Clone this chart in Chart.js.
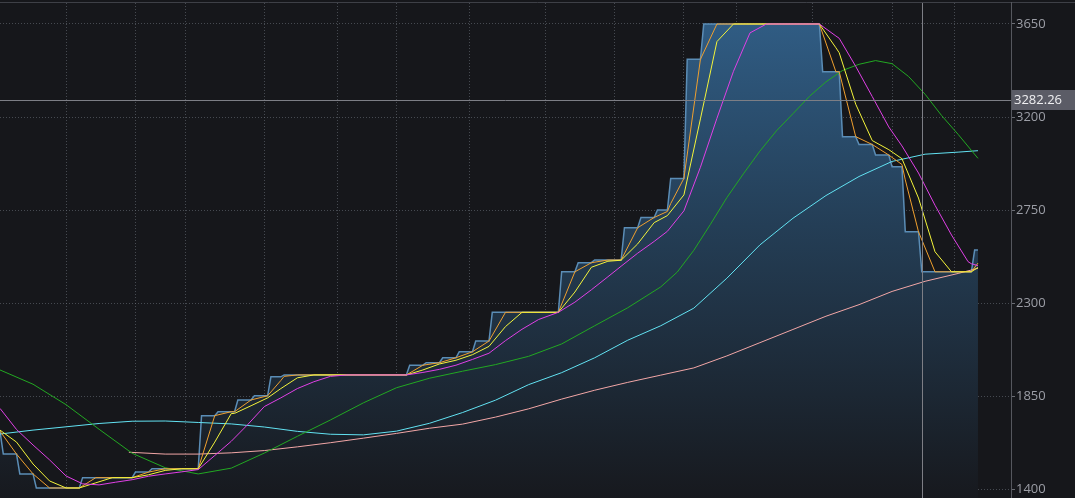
<!DOCTYPE html>
<html>
<head>
<meta charset="utf-8">
<script src="https://cdn.jsdelivr.net/npm/chart.js@4/dist/chart.umd.min.js"></script>
<style>
  html, body { margin: 0; padding: 0; background: #16171b; overflow: hidden; }
  canvas { display: block; }
</style>
</head>
<body>
<canvas id="chart" width="1075" height="498"></canvas>
<script>
// Trading-day index of each weekly price change, and the price from that day on
const priceDays   = [0, 1, 6, 11, 25, 41, 46, 61, 66, 72, 77, 82, 86, 124, 129, 134, 139, 144, 149, 170, 175, 180, 189, 194, 199, 203, 208, 213, 249, 255, 260, 265, 270, 274, 279, 295];
const priceLevels = [1680, 1569, 1473, 1405, 1455, 1482, 1498, 1755, 1774, 1831, 1851, 1943, 1952, 1999, 2011, 2035, 2064, 2116, 2255, 2451, 2495, 2508, 2664, 2714, 2750, 2903, 3479, 3650, 3419, 3105, 3067, 3016, 2959, 2645, 2451, 2556];
const lastDay = 296;

// Moving averages (day index, value)
const ma5Days   = [0, 5, 10, 15, 24, 29, 40, 45, 50, 60, 65, 70, 71, 76, 81, 85, 86, 90, 123, 128, 133, 138, 143, 148, 153, 169, 174, 179, 184, 188, 193, 198, 202, 203, 207, 212, 217, 248, 253, 254, 259, 264, 269, 273, 274, 278, 283, 294, 296];
const ma5Values = [1680, 1569, 1473, 1405, 1405, 1455, 1455, 1482, 1498, 1498, 1755, 1774, 1774, 1831, 1851, 1925, 1945, 1952, 1952, 1999, 2011, 2035, 2064, 2116, 2255, 2255, 2451, 2495, 2508, 2508, 2664, 2714, 2743, 2781, 2903, 3479, 3650, 3650, 3419, 3419, 3105, 3067, 3016, 2970, 2896, 2645, 2451, 2451, 2493];

const ma10Days   = [0, 5, 10, 15, 20, 24, 29, 34, 40, 45, 50, 55, 60, 65, 70, 71, 76, 81, 85, 90, 95, 123, 128, 133, 138, 143, 148, 153, 158, 169, 174, 179, 184, 188, 193, 198, 202, 207, 212, 217, 222, 248, 253, 254, 259, 264, 269, 273, 278, 283, 288, 294, 296];
const ma10Values = [1685, 1627, 1521, 1439, 1405, 1405, 1430, 1455, 1455, 1469, 1490, 1498, 1498, 1627, 1765, 1766, 1803, 1841, 1886, 1938, 1952, 1952, 1976, 2005, 2023, 2050, 2090, 2186, 2255, 2255, 2353, 2473, 2502, 2507, 2586, 2689, 2723, 2823, 3191, 3565, 3650, 3650, 3535, 3511, 3262, 3086, 3042, 2998, 2808, 2548, 2451, 2451, 2472];

const ma20Days   = [0, 5, 10, 15, 20, 25, 30, 35, 40, 45, 50, 55, 60, 65, 70, 75, 80, 85, 90, 95, 100, 105, 123, 128, 133, 138, 143, 148, 153, 158, 163, 169, 174, 179, 184, 188, 193, 198, 202, 207, 212, 217, 222, 227, 232, 248, 253, 254, 259, 264, 269, 273, 278, 283, 288, 293, 294, 296];
const ma20Values = [1790, 1688, 1613, 1541, 1463, 1425, 1420, 1433, 1445, 1462, 1473, 1483, 1494, 1562, 1631, 1712, 1799, 1841, 1886, 1919, 1945, 1952, 1952, 1964, 1979, 1999, 2027, 2057, 2118, 2173, 2220, 2255, 2304, 2364, 2427, 2478, 2541, 2598, 2647, 2746, 2957, 3194, 3421, 3607, 3650, 3650, 3592, 3581, 3445, 3299, 3152, 3060, 2929, 2773, 2629, 2500, 2490, 2481];

const ma60Days   = [0, 10, 20, 30, 40, 50, 60, 70, 80, 90, 100, 110, 120, 130, 140, 150, 160, 170, 180, 190, 200, 205, 210, 215, 220, 225, 230, 235, 240, 245, 250, 255, 260, 265, 270, 275, 280, 285, 290, 296];
const ma60Values = [1976, 1907, 1808, 1689, 1573, 1503, 1473, 1501, 1574, 1655, 1734, 1817, 1890, 1936, 1970, 2002, 2042, 2102, 2190, 2277, 2378, 2450, 2555, 2680, 2810, 2925, 3035, 3133, 3216, 3300, 3370, 3425, 3455, 3473, 3458, 3396, 3310, 3207, 3116, 3000];

const ma120Days   = [0, 10, 20, 30, 40, 50, 60, 70, 80, 90, 100, 110, 120, 130, 140, 150, 160, 170, 180, 190, 200, 210, 220, 230, 240, 250, 260, 270, 280, 290, 296];
const ma120Values = [1666, 1685, 1701, 1717, 1728, 1729, 1722, 1715, 1700, 1679, 1665, 1662, 1680, 1718, 1770, 1830, 1905, 1963, 2035, 2120, 2190, 2275, 2420, 2581, 2710, 2820, 2912, 2985, 3020, 3030, 3037];

const ma250Days   = [39, 50, 60, 70, 80, 90, 100, 110, 120, 130, 140, 150, 160, 170, 180, 190, 200, 210, 220, 230, 240, 250, 260, 270, 280, 290, 296];
const ma250Values = [1578, 1569, 1569, 1575, 1586, 1604, 1624, 1646, 1669, 1694, 1714, 1748, 1788, 1835, 1878, 1916, 1951, 1986, 2044, 2108, 2172, 2236, 2292, 2356, 2405, 2443, 2468];

// Month boundaries (vertical grid) and price axis ticks
const monthDays = [20, 41, 56, 80, 102, 120, 142, 165, 186, 207, 223, 246, 270, 289];
const priceTicks = [1400, 1850, 2300, 2750, 3200, 3650];

// Cursor position
const cursorDay = 279;
const cursorPrice = 3282.26;

// Expand weekly levels into a line that holds each level until the next change
const priceData = [];
priceDays.forEach((d, i) => {
  const end = i + 1 < priceDays.length ? priceDays[i + 1] - 1 : lastDay;
  priceData.push({ x: d, y: priceLevels[i] });
  if (end > d) priceData.push({ x: end, y: priceLevels[i] });
});

const pairs = (days, vals) => days.map((d, i) => ({ x: d, y: vals[i] }));

function areaGradient(context) {
  const area = context.chart.chartArea;
  if (!area) return 'rgba(40,75,105,0.8)';
  const g = context.chart.ctx.createLinearGradient(0, area.top, 0, area.bottom);
  g.addColorStop(0, '#315f88');
  g.addColorStop(0.45, '#243e56');
  g.addColorStop(1, '#17191e');
  return g;
}

const lineDefaults = { pointRadius: 0, borderWidth: 1, tension: 0, fill: false };
const gridDots = 'rgba(112,116,126,0.55)';

const backdrop = {
  id: 'backdrop',
  beforeDraw(chart) {
    const { ctx } = chart;
    ctx.save();
    ctx.fillStyle = '#16171b';
    ctx.fillRect(0, 0, chart.width, chart.height);
    ctx.restore();
  }
};

const cursor = {
  id: 'cursor',
  afterDraw(chart) {
    const { ctx, chartArea: a, scales: { x, y } } = chart;
    const cy = Math.round(y.getPixelForValue(cursorPrice)) + 0.5;
    const cx = Math.round(x.getPixelForValue(cursorDay)) + 0.5;
    ctx.save();
    ctx.lineWidth = 1;
    // frame: top line and price axis line
    ctx.strokeStyle = '#3e4047';
    ctx.beginPath();
    ctx.moveTo(0, a.top - 0.5);
    ctx.lineTo(chart.width, a.top - 0.5);
    ctx.stroke();
    ctx.strokeStyle = '#55575e';
    ctx.beginPath();
    ctx.moveTo(a.right + 0.5, a.top - 1);
    ctx.lineTo(a.right + 0.5, chart.height);
    ctx.stroke();
    // crosshair
    ctx.strokeStyle = '#7d7e85';
    ctx.beginPath();
    ctx.moveTo(a.left, cy);
    ctx.lineTo(a.right, cy);
    ctx.moveTo(cx, a.top);
    ctx.lineTo(cx, a.bottom);
    ctx.stroke();
    // price tag on the axis
    ctx.fillStyle = '#5b5c66';
    ctx.fillRect(a.right + 1, cy - 10.5, chart.width - a.right - 1, 20);
    ctx.fillStyle = '#f0f0f2';
    ctx.font = '13px "Open Sans", "DejaVu Sans", sans-serif';
    ctx.textBaseline = 'middle';
    ctx.textAlign = 'left';
    ctx.fillText(cursorPrice.toFixed(2), a.right + 3, cy);
    ctx.restore();
  }
};

new Chart(document.getElementById('chart'), {
  type: 'line',
  data: {
    datasets: [
      { label: 'MA20', data: pairs(ma20Days, ma20Values), borderColor: '#e040e6', ...lineDefaults },
      { label: 'MA10', data: pairs(ma10Days, ma10Values), borderColor: '#f4f43a', ...lineDefaults },
      { label: 'MA5', data: pairs(ma5Days, ma5Values), borderColor: '#f0a02e', ...lineDefaults },
      { label: 'MA60', data: pairs(ma60Days, ma60Values), borderColor: '#22a822', ...lineDefaults },
      { label: 'MA120', data: pairs(ma120Days, ma120Values), borderColor: '#62e2f2', ...lineDefaults },
      { label: 'MA250', data: pairs(ma250Days, ma250Values), borderColor: '#f2a6a6', ...lineDefaults },
      {
        label: 'Price', data: priceData, borderColor: '#5b8db6', borderWidth: 1.5,
        pointRadius: 0, tension: 0, fill: 'start', backgroundColor: areaGradient
      }
    ]
  },
  options: {
    responsive: false,
    animation: false,
    devicePixelRatio: 1,
    layout: { padding: { top: 3, left: 0, right: 0, bottom: 0 } },
    plugins: { legend: { display: false }, tooltip: { enabled: false } },
    scales: {
      x: {
        type: 'linear',
        min: 0,
        max: 306,
        afterBuildTicks(scale) { scale.ticks = monthDays.map(v => ({ value: v })); },
        afterFit(scale) { scale.height = 0; scale.paddingLeft = 0; scale.paddingRight = 0; },
        ticks: { display: false },
        border: { display: false, dash: [1, 2] },
        grid: { color: gridDots, drawTicks: false, lineWidth: 1 }
      },
      y: {
        position: 'right',
        min: 1356.5,
        max: 3751.6,
        afterBuildTicks(scale) { scale.ticks = priceTicks.map(v => ({ value: v })); },
        afterFit(scale) { scale.width = 64; scale.paddingTop = 0; scale.paddingBottom = 0; },
        ticks: {
          color: '#9c9ea6',
          padding: 1,
          font: { family: '"Open Sans", "DejaVu Sans", sans-serif', size: 13 },
          callback: v => String(v)
        },
        border: { display: false, dash: [1, 2] },
        grid: {
          color: gridDots, lineWidth: 1,
          drawTicks: true, tickLength: 4, tickColor: '#6a6c73', tickBorderDash: []
        }
      }
    }
  },
  plugins: [backdrop, cursor]
});
</script>
</body>
</html>
